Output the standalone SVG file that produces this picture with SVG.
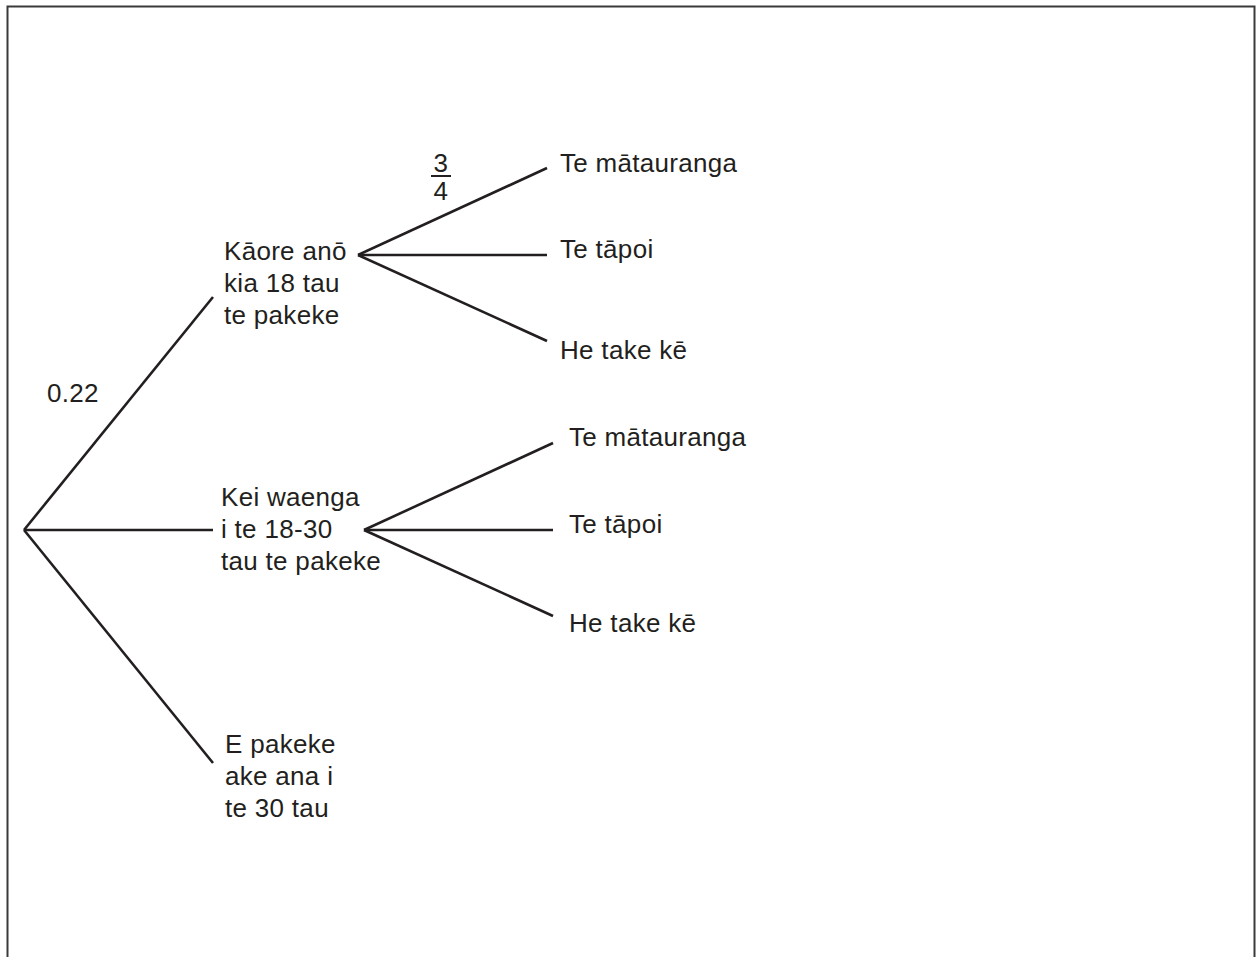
<svg xmlns="http://www.w3.org/2000/svg" width="1256" height="957" viewBox="0 0 1256 957">
<style>
text{font-family:"Liberation Sans",Arial,sans-serif;font-size:26px;letter-spacing:0.3px;fill:#231f20}
.ln{stroke:#231f20;stroke-width:2.6;fill:none;stroke-linecap:butt}
.frame{stroke:#3a3a3a;stroke-width:2;fill:none}
</style>
<rect width="1256" height="957" fill="#ffffff"/>
<path class="frame" d="M7.5,957 V6.5 H1254.5 V957"/>
<g id="connectors">
<line class="ln" x1="24" y1="530" x2="213" y2="297"/>
<line class="ln" x1="24" y1="530" x2="213" y2="530"/>
<line class="ln" x1="24" y1="530" x2="213" y2="763"/>
<line class="ln" x1="358" y1="255" x2="547" y2="168"/>
<line class="ln" x1="358" y1="255" x2="547" y2="255"/>
<line class="ln" x1="358" y1="255" x2="547" y2="341"/>
<line class="ln" x1="364" y1="530" x2="553" y2="443"/>
<line class="ln" x1="364" y1="530" x2="553" y2="530"/>
<line class="ln" x1="364" y1="530" x2="553" y2="616"/>
</g>
<g id="label-022"><text x="47" y="402">0.22</text></g>
<g id="label-frac">
<text x="441" y="172" text-anchor="middle">3</text>
<line x1="431" y1="176" x2="451" y2="176" stroke="#231f20" stroke-width="2"/>
<text x="441" y="200" text-anchor="middle">4</text>
</g>
<g id="node-under18">
<text x="224" y="260">Kāore anō</text>
<text x="224" y="292">kia 18 tau</text>
<text x="224" y="324">te pakeke</text>
</g>
<g id="node-18-30">
<text x="221" y="506">Kei waenga</text>
<text x="221" y="538">i te 18-30</text>
<text x="221" y="570">tau te pakeke</text>
</g>
<g id="node-over30">
<text x="225" y="753">E pakeke</text>
<text x="225" y="785">ake ana i</text>
<text x="225" y="817">te 30 tau</text>
</g>
<g id="leaf-u1"><text x="560" y="172">Te mātauranga</text></g>
<g id="leaf-u2"><text x="560" y="258">Te tāpoi</text></g>
<g id="leaf-u3"><text x="560" y="359">He take kē</text></g>
<g id="leaf-l1"><text x="569" y="446">Te mātauranga</text></g>
<g id="leaf-l2"><text x="569" y="533">Te tāpoi</text></g>
<g id="leaf-l3"><text x="569" y="632">He take kē</text></g>
</svg>
